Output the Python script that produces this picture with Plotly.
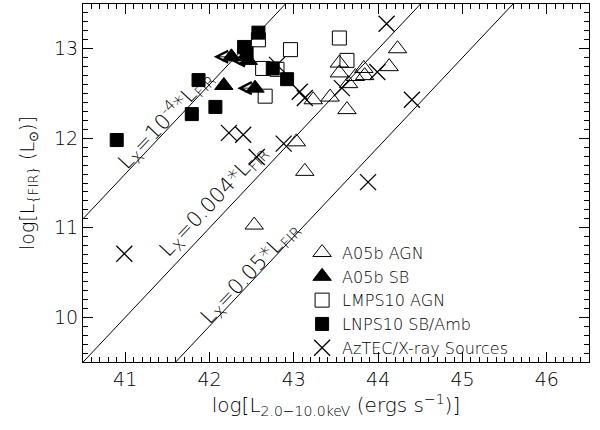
import plotly.graph_objects as go
import numpy as np

# A05b AGN (open triangles)
agn_x = [42.53, 43.03, 43.13, 43.23, 43.43, 43.54, 43.54, 43.63, 43.65, 43.73, 43.83, 43.84, 44.13, 44.23]
agn_y = [11.03, 11.96, 11.63, 12.43, 12.46, 12.84, 12.73, 12.32, 12.61, 12.69, 12.78, 12.70, 12.80, 13.00]
# A05b SB (filled triangles), lim=1 -> X-ray upper limit
sb_x = [42.26, 42.46, 42.17, 42.54]
sb_y = [12.91, 12.87, 12.59, 12.56]
sb_lim = [1, 1, 0, 1]
# LMPS10 AGN (open squares)
lmps_x = [42.58, 42.96, 42.63, 42.80, 42.66, 43.54, 43.63]
lmps_y = [13.10, 12.99, 12.78, 12.77, 12.47, 13.12, 12.87]
# LNPS10 SB/Amb (filled squares)
lnps_x = [40.90, 41.79, 41.87, 42.07, 42.41, 42.44, 42.58, 42.75, 42.92]
lnps_y = [11.98, 12.27, 12.65, 12.35, 13.02, 12.95, 13.18, 12.78, 12.66]
# AzTEC/X-ray sources (crosses)
az_x = [40.99, 42.23, 42.40, 42.56, 42.88, 43.07, 43.13, 42.80, 43.57, 43.99, 44.10, 44.40, 43.88]
az_y = [10.71, 12.06, 12.04, 11.79, 11.94, 12.52, 12.45, 12.82, 12.56, 12.74, 13.28, 12.43, 11.51]

# Lx = coef * LFIR relations
line_coef = [1e-4, 0.004, 0.05]
line_offset_base = 33.4
line_labels = ["L<sub>X</sub>=10<sup>-4</sup>*L<sub>FIR</sub>",
               "L<sub>X</sub>=0.004*L<sub>FIR</sub>",
               "L<sub>X</sub>=0.05*L<sub>FIR</sub>"]
label_x = [41.47, 42.045, 42.48]
label_y = [12.21, 11.30, 10.50]

xr = [40.5, 46.5]
yr = [9.5, 13.5]

FONT = "DejaVu Sans"
W = 200
fig = go.Figure()

lx = np.array(xr)
for c in line_coef:
    off = line_offset_base + np.log10(c)
    fig.add_trace(go.Scatter(x=lx, y=lx - off, mode="lines",
                             line=dict(color="black", width=1), showlegend=False,
                             hoverinfo="skip"))

fig.add_trace(go.Scatter(x=agn_x, y=agn_y, mode="markers", name="A05b AGN",
                         marker=dict(symbol="triangle-up-open", size=16, color="black",
                                     line=dict(width=1, color="black"))))
fig.add_trace(go.Scatter(x=sb_x, y=sb_y, mode="markers", name="A05b SB",
                         marker=dict(symbol="triangle-up", size=16, color="black",
                                     line=dict(width=1, color="black"))))
fig.add_trace(go.Scatter(x=lmps_x, y=lmps_y, mode="markers", name="LMPS10 AGN",
                         marker=dict(symbol="square-open", size=14, color="black",
                                     line=dict(width=1, color="black"))))
fig.add_trace(go.Scatter(x=lnps_x, y=lnps_y, mode="markers", name="LNPS10 SB/Amb",
                         marker=dict(symbol="square", size=13, color="black",
                                     line=dict(width=1, color="black"))))
fig.add_trace(go.Scatter(x=az_x, y=az_y, mode="markers", name="AzTEC/X-ray Sources",
                         marker=dict(symbol="x-thin", size=16, color="black",
                                     line=dict(width=1.3, color="black"))))

annotations = []
for x, y, lim in zip(sb_x, sb_y, sb_lim):
    if lim:
        annotations.append(dict(x=x - 0.21, y=y, ax=x, ay=y, xref="x", yref="y",
                                axref="x", ayref="y", text="", showarrow=True,
                                arrowhead=5, arrowsize=2.6, arrowwidth=0.9,
                                arrowcolor="black"))
for t, x, y in zip(line_labels, label_x, label_y):
    annotations.append(dict(x=x, y=y, xref="x", yref="y", text=t, showarrow=False,
                            textangle=-46.7,
                            font=dict(family=FONT, size=21, color="black", weight=W)))

axis_common = dict(showline=True, linecolor="black", linewidth=1, mirror="ticks",
                   ticks="inside", ticklen=10, tickwidth=1, tickcolor="black",
                   showgrid=False, zeroline=False,
                   tickfont=dict(family=FONT, size=19, color="black", weight=W),
                   minor=dict(ticks="inside", ticklen=5, dtick=0.1, tickcolor="black",
                              tickwidth=1, showgrid=False))

fig.update_layout(
    width=600, height=430,
    margin=dict(l=83, r=11, t=4, b=68),
    plot_bgcolor="white", paper_bgcolor="white",
    font=dict(family=FONT, size=17, color="black", weight=W),
    xaxis=dict(range=xr, dtick=1, tick0=41,
               title=dict(text="log[L<sub>2.0\u221210.0keV</sub> (ergs s<sup>\u22121</sup>)]",
                          font=dict(family=FONT, size=20, weight=W), standoff=9),
               **axis_common),
    yaxis=dict(range=yr, dtick=1, tick0=10,
               title=dict(text="log[L<sub>{FIR}</sub> (L<sub>\u2299</sub>)]",
                          font=dict(family=FONT, size=19, weight=W), standoff=14),
               **axis_common),
    legend=dict(x=0.433, y=0.353, xanchor="left", yanchor="top",
                bgcolor="rgba(0,0,0,0)", borderwidth=0, tracegroupgap=0,
                itemwidth=30, font=dict(family=FONT, size=16, color="black", weight=W)),
    annotations=annotations,
)

fig.write_html("out.html")
